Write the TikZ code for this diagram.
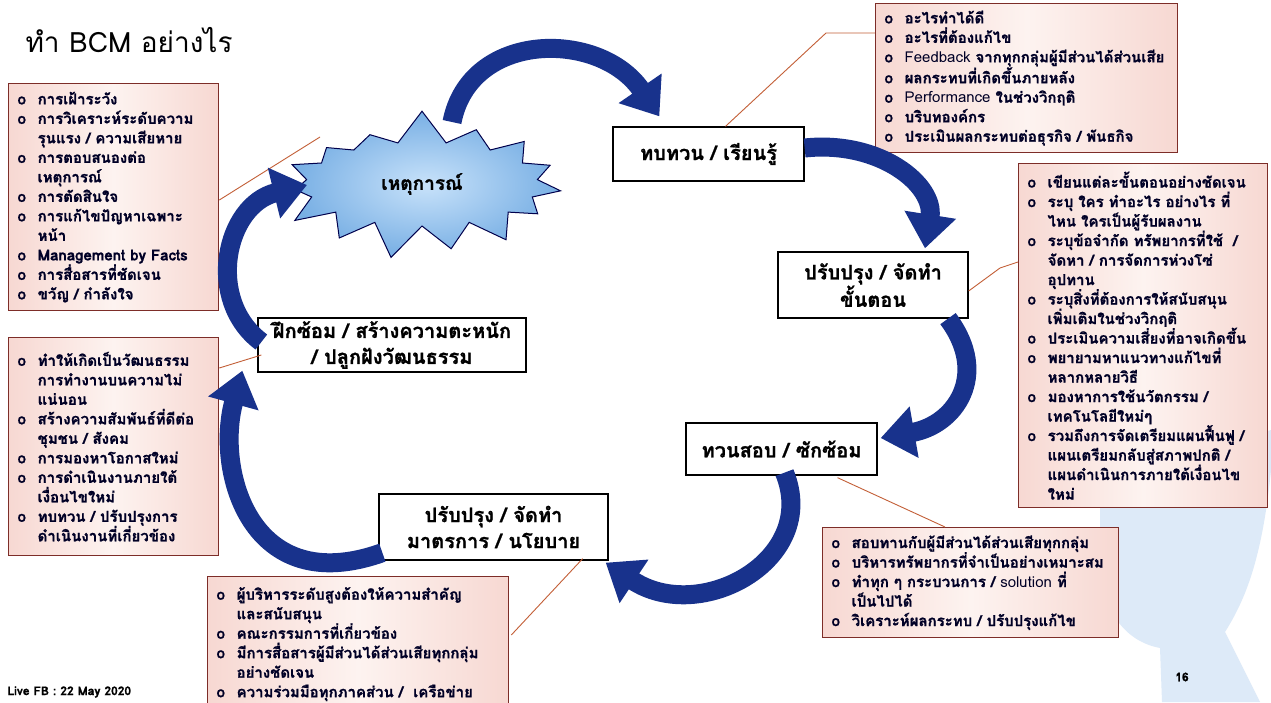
\documentclass[tikz,border=0pt]{standalone}
\usepackage{fontspec}
\usetikzlibrary{arrows.meta,shapes.symbols}
\newfontfamily\thaifont[Script=Thai, BoldFeatures={FakeBold=1}]{Loma}
\definecolor{lstline}{RGB}{125,45,40}
\definecolor{lstpink}{RGB}{247,216,210}
\definecolor{lstlight}{RGB}{253,243,240}
\definecolor{cycblue}{RGB}{24,50,140}
\definecolor{callred}{RGB}{195,95,55}
\definecolor{wmark}{RGB}{221,234,248}
\definecolor{burstin}{RGB}{200,226,250}
\definecolor{burstout}{RGB}{120,175,228}
\tikzset{>=latex}
\tikzset{
  lst/.style={draw=lstline, line width=1.3pt, left color=lstpink, right color=lstpink,
    middle color=lstlight, anchor=north west, align=left, inner xsep=9pt, inner ysep=3pt,
    font=\thaifont\bfseries\fontsize{15}{19.5}\selectfont, text=black!85!blue},
  stage/.style={draw=black, line width=1.3pt, fill=white, align=center, inner sep=2pt,
    font=\thaifont\bfseries\fontsize{20}{26}\selectfont},
  cyc/.style={draw=cycblue, line width=19pt, -{Triangle[width=50pt,length=34pt]}},
  callout/.style={draw=callred, line width=0.9pt},
}
\newcommand\lsti{\makebox[20pt][l]{o}}
\newcommand\lstc{\hspace*{20pt}}

\begin{document}
\begin{tikzpicture}[x=1pt, y=-1pt]

\useasboundingbox (0,0) rectangle (1271,702);
\fill[white] (0,0) rectangle (1271,702);

% watermark at the right edge
\fill[wmark] (1271,430) -- (1271,470) .. controls (1262,560) and (1245,600) .. (1225,632)
  -- (1260,702) -- (1162,702) -- (1160,648) .. controls (1118,640) and (1100,600) .. (1100,560)
  -- (1100,480) -- cycle;

\node[anchor=west, font=\thaifont\fontsize{28}{30}\selectfont] (title) at (22,40) {ทำ BCM อย่างไร};

% the six stages of the cycle
\node[starburst, starburst points=15, starburst point height=34pt, random starburst=7,
  minimum width=300pt, minimum height=152pt, draw=black!70!blue, line width=1pt,
  inner color=burstin, outer color=burstout,
  font=\thaifont\bfseries\fontsize{19}{22}\selectfont] (event) at (422,184) {เหตุการณ์};
\node[stage, minimum width=191pt, minimum height=54pt] (review) at (708.5,154) {ทบทวน / เรียนรู้};
\node[stage, minimum width=190pt, minimum height=66pt] (steps) at (873,285) {ปรับปรุง / จัดทำ\\ขั้นตอน};
\node[stage, minimum width=191pt, minimum height=52pt] (drill) at (781.5,449) {ทวนสอบ / ซักซ้อม};
\node[stage, minimum width=229pt, minimum height=66pt] (policy) at (493.5,527) {ปรับปรุง / จัดทำ\\มาตรการ / นโยบาย};
\node[stage, minimum width=268pt, minimum height=54pt] (train) at (392,345) {ฝึกซ้อม / สร้างความตะหนัก\\/ ปลูกฝังวัฒนธรรม};

% lists
\node[lst, minimum width=210pt, minimum height=227pt, text width=192pt] (lstevent) at (8,83) {%
\lsti การเฝ้าระวัง\\
\lsti การวิเคราะห์ระดับความ\\
\lstc รุนแรง / ความเสียหาย\\
\lsti การตอบสนองต่อ\\
\lstc เหตุการณ์\\
\lsti การตัดสินใจ\\
\lsti การแก้ไขปัญหาเฉพาะ\\
\lstc หน้า\\
\lsti Management by Facts\\
\lsti การสื่อสารที่ชัดเจน\\
\lsti ขวัญ / กำลังใจ};

\node[lst, minimum width=210pt, minimum height=218pt, text width=192pt] (lsttrain) at (8,337) {%
\lsti ทำให้เกิดเป็นวัฒนธรรม\\
\lstc การทำงานบนความไม่\\
\lstc แน่นอน\\
\lsti สร้างความสัมพันธ์ที่ดีต่อ\\
\lstc ชุมชน / สังคม\\
\lsti การมองหาโอกาสใหม่\\
\lsti การดำเนินงานภายใต้\\
\lstc เงื่อนไขใหม่\\
\lsti ทบทวน / ปรับปรุงการ\\
\lstc ดำเนินงานที่เกี่ยวข้อง};

\node[lst, minimum width=302pt, minimum height=149pt, text width=284pt] (lstreview) at (875,3) {%
\lsti อะไรทำได้ดี\\
\lsti อะไรที่ต้องแก้ไข\\
\lsti {\mdseries Feedback} จากทุกกลุ่มผู้มีส่วนได้ส่วนเสีย\\
\lsti ผลกระทบที่เกิดขึ้นภายหลัง\\
\lsti {\mdseries Performance} ในช่วงวิกฤติ\\
\lsti บริบทองค์กร\\
\lsti ประเมินผลกระทบต่อธุรกิจ / พันธกิจ};

\node[lst, minimum width=249pt, minimum height=344pt, text width=231pt] (lststeps) at (1018,163) {%
\lsti เขียนแต่ละขั้นตอนอย่างชัดเจน\\
\lsti ระบุ ใคร ทำอะไร อย่างไร ที่\\
\lstc ไหน ใครเป็นผู้รับผลงาน\\
\lsti ระบุข้อจำกัด ทรัพยากรที่ใช้ \ /\\
\lstc จัดหา / การจัดการห่วงโซ่\\
\lstc อุปทาน\\
\lsti ระบุสิ่งที่ต้องการให้สนับสนุน\\
\lstc เพิ่มเติมในช่วงวิกฤติ\\
\lsti ประเมินความเสี่ยงที่อาจเกิดขึ้น\\
\lsti พยายามหาแนวทางแก้ไขที่\\
\lstc หลากหลายวิธี\\
\lsti มองหาการใช้นวัตกรรม /\\
\lstc เทคโนโลยีใหม่ๆ\\
\lsti รวมถึงการจัดเตรียมแผนฟื้นฟู /\\
\lstc แผนเตรียมกลับสู่สภาพปกติ /\\
\lstc แผนดำเนินการภายใต้เงื่อนไข\\
\lstc ใหม่};

\node[lst, minimum width=296pt, minimum height=110pt, text width=278pt] (lstdrill) at (822,527) {%
\lsti สอบทานกับผู้มีส่วนได้ส่วนเสียทุกกลุ่ม\\
\lsti บริหารทรัพยากรที่จำเป็นอย่างเหมาะสม\\
\lsti ทำทุก ๆ กระบวนการ / {\mdseries solution} ที่\\
\lstc เป็นไปได้\\
\lsti วิเคราะห์ผลกระทบ / ปรับปรุงแก้ไข};

\node[lst, minimum width=301pt, minimum height=135pt, text width=283pt] (lstpolicy) at (207,576) {%
\lsti ผู้บริหารระดับสูงต้องให้ความสำคัญ\\
\lstc และสนับสนุน\\
\lsti คณะกรรมการที่เกี่ยวข้อง\\
\lsti มีการสื่อสารผู้มีส่วนได้ส่วนเสียทุกกลุ่ม\\
\lstc อย่างชัดเจน\\
\lsti ความร่วมมือทุกภาคส่วน / \ เครือข่าย};

% callout lines
\draw[callout] ([yshift=-117pt]lstevent.north east) -- ([shift={(-102,-47)}]event.center);
\draw[callout] ([shift={(0,31)}]lsttrain.north east) -- ([shift={(4,10)}]train.west);
\draw[callout] ([xshift=17pt]review.north) -- (826,33) -- ([shift={(0,30)}]lstreview.north west);
\draw[callout] ([yshift=-6pt]steps.east) -- (1000,268) -- ([shift={(0,99)}]lststeps.north west);
\draw[callout] ([shift={(56,2)}]drill.south) -- ([xshift=123pt]lstdrill.north west);
\draw[callout] ([shift={(-26,-2)}]policy.south east) -- ([shift={(2,59)}]lstpolicy.north east);

% the cycle arrows
\draw[cyc] ([shift={(30,-62)}]event.center) .. controls (470,30) and (600,30) .. ([shift={(47,-10)}]review.north west);
\draw[cyc] ([yshift=6pt]review.east) .. controls (880,140) and (935,185) .. ([shift={(52,-3)}]steps.north);
\draw[cyc] ([xshift=75pt]steps.south) .. controls (990,375) and (955,425) .. ([shift={(3,-11)}]drill.east);
\draw[cyc] ([shift={(3,-3)}]drill.south) .. controls (820,560) and (700,625) .. ([shift={(-3,2)}]policy.south east);
\draw[cyc] ([shift={(4,-8)}]policy.south west) .. controls (250,600) and (215,470) .. ([shift={(-15,-2)}]train.south west);
\draw[cyc] ([shift={(4,-3)}]train.west) .. controls (205,300) and (225,205) .. ([shift={(-115,1)}]event.center);

\node[anchor=west, font=\thaifont\bfseries\fontsize{12}{14}\selectfont] (footer) at (4,692) {Live FB : 22 May 2020};
\node[font=\thaifont\bfseries\fontsize{12}{14}\selectfont] (page) at (1182,677) {16};

\end{tikzpicture}
\end{document}
